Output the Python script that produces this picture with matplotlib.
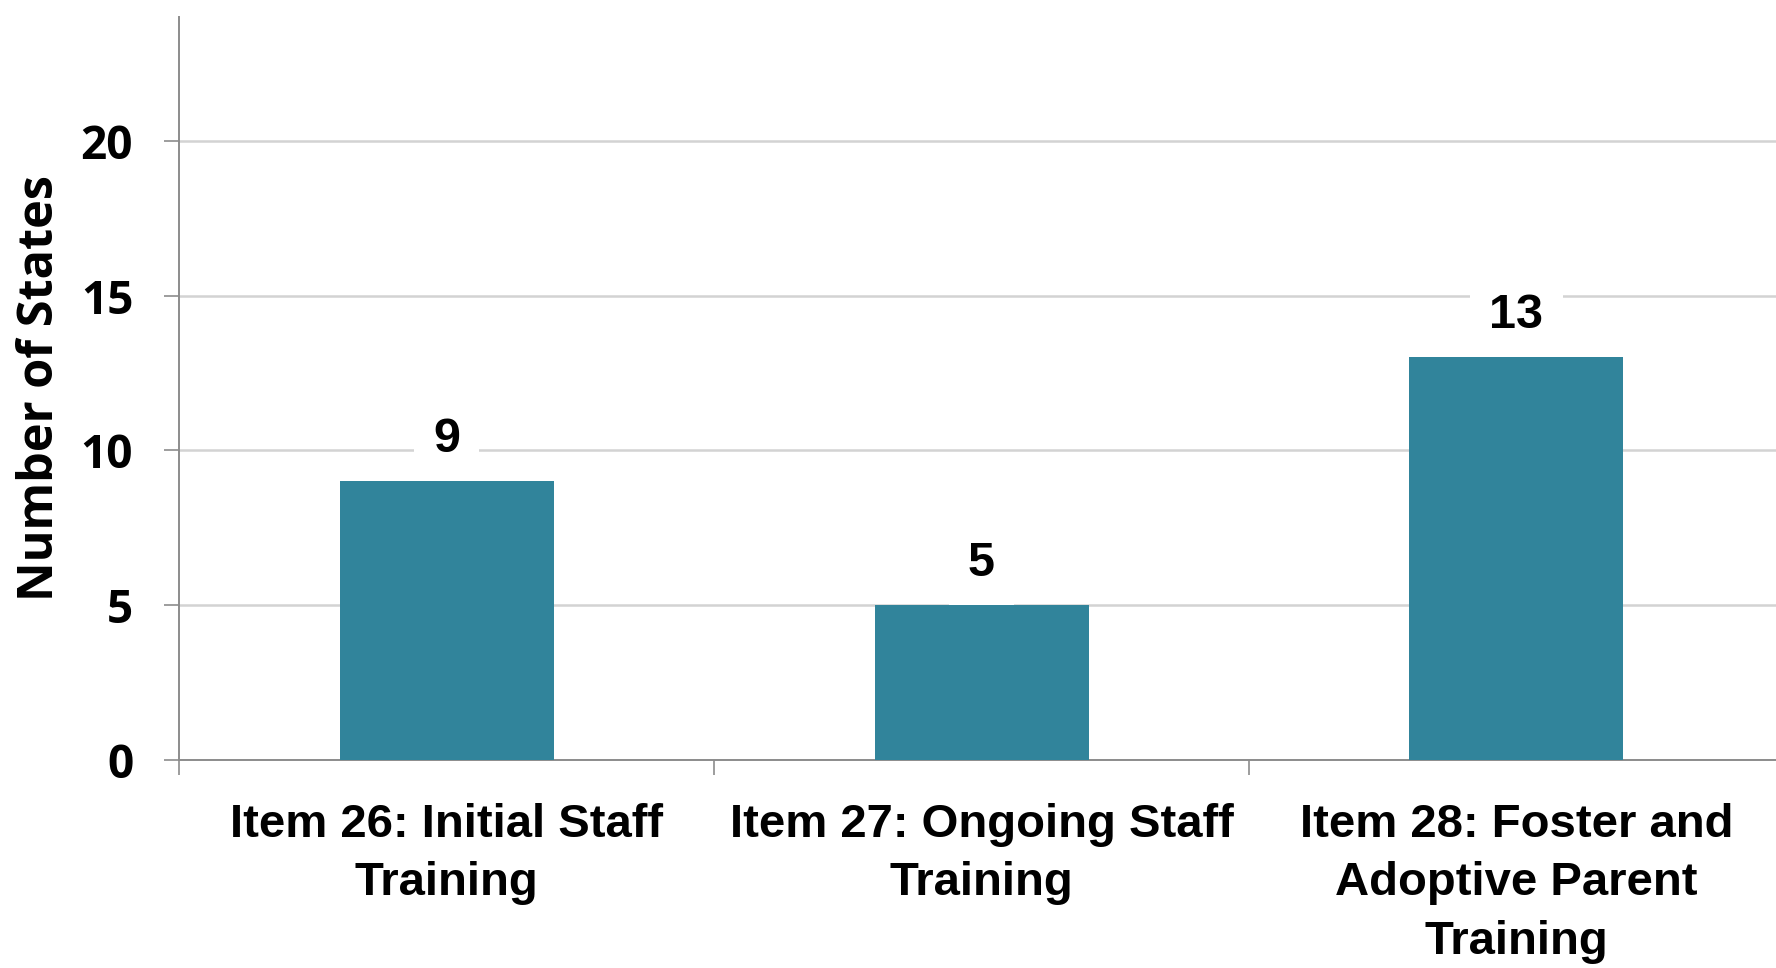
import matplotlib.pyplot as plt
import numpy as np

categories = ["Item 26: Initial Staff\nTraining",
              "Item 27: Ongoing Staff\nTraining",
              "Item 28: Foster and\nAdoptive Parent\nTraining"]
states = [9, 5, 13]
y_ticks = [0, 5, 10, 15, 20]

fig = plt.figure(figsize=(17.76, 9.68), dpi=100)
ax = fig.add_axes([0.1008, 0.2149, 0.9037, 0.7676])

x = np.arange(len(categories))
bars = ax.bar(x, states, width=0.4, color='#31849b', zorder=3)

ax.set_xlim(-0.5, 2.5)
ax.set_ylim(0, 24)
ax.set_yticks(y_ticks)
ax.set_yticklabels([str(t) for t in y_ticks], fontsize=33,
                   fontweight='bold', family='Open Sans')
ax.grid(axis='y', color='#d3d3d3', linewidth=1.8, zorder=0)

# category labels on centres, separator ticks on boundaries
ax.set_xticks(x)
ax.set_xticklabels(categories, fontsize=34, fontweight='bold',
                   family='Liberation Sans', linespacing=1.42)
ax.tick_params(axis='x', which='major', length=0, pad=31)
ax.set_xticks(np.arange(-0.5, 3, 1), minor=True)
ax.tick_params(axis='x', which='minor', length=11, color='#8c8c8c', width=1.2)
ax.tick_params(axis='y', length=11, color='#8c8c8c', width=1.2, pad=22)

for side in ['top', 'right']:
    ax.spines[side].set_visible(False)
for side in ['left', 'bottom']:
    ax.spines[side].set_color('#8c8c8c')
    ax.spines[side].set_linewidth(1.4)

for b, v in zip(bars, states):
    ax.annotate(str(v), (b.get_x() + b.get_width() / 2, v),
                xytext=(0, 14), textcoords='offset points',
                ha='center', va='bottom', fontsize=35, fontweight='bold',
                family='Liberation Sans', zorder=4,
                bbox=dict(facecolor='white', edgecolor='none', pad=14))

ax.set_ylabel('Number of States', fontsize=35, fontweight='bold',
              family='Open Sans')
ax.yaxis.set_label_coords(-0.071, 0.5)

fig.savefig('out.png', dpi=100)
